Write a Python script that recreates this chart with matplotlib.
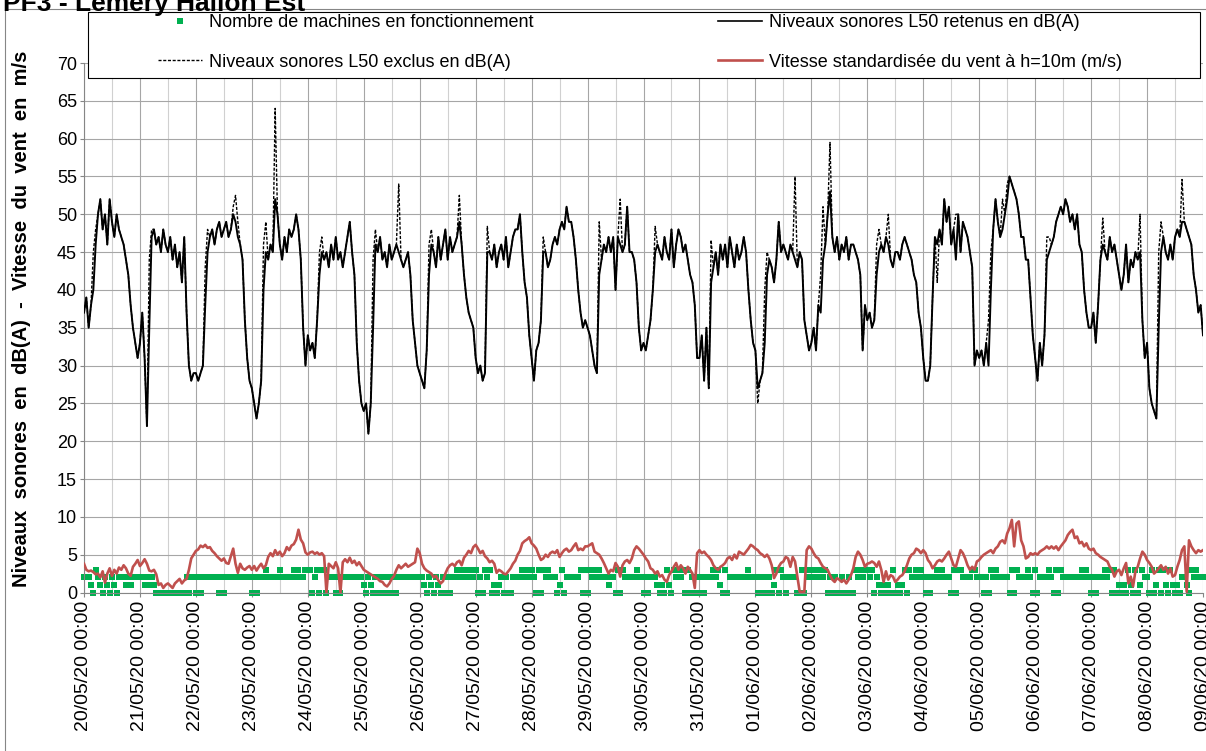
import matplotlib
matplotlib.use("Agg")
import matplotlib.pyplot as plt
import matplotlib.dates as mdates
from matplotlib.lines import Line2D
from matplotlib.patches import Rectangle
import numpy as np
import pandas as pd

plt.rcParams["font.family"] = ["Liberation Sans", "DejaVu Sans"]

# hourly L50 (retained), one row per day, from 20/05/20 00:00
l50_retenus = [
    37, 39, 35, 38, 40, 46, 50, 52, 48, 50, 46, 52, 49, 47, 50, 48, 47, 46, 44, 42, 38, 35, 33, 31,
    33, 37, 31, 22, 35, 47, 48, 46, 47, 45, 48, 46, 45, 47, 44, 46, 43, 45, 41, 47, 37, 30, 28, 29,
    29, 28, 29, 30, 38, 45, 47, 48, 46, 48, 49, 47, 48, 49, 47, 48, 50, 49, 47, 46, 44, 36, 31, 28,
    27, 25, 23, 25, 28, 40, 45, 44, 46, 45, 52, 50, 46, 44, 47, 45, 48, 47, 48, 50, 48, 44, 35, 30,
    34, 32, 33, 31, 36, 42, 45, 44, 45, 43, 46, 44, 47, 44, 45, 43, 45, 47, 49, 45, 42, 33, 28, 25,
    24, 25, 21, 25, 35, 46, 45, 47, 44, 45, 43, 46, 44, 45, 46, 45, 44, 43, 44, 45, 42, 36, 33, 30,
    29, 28, 27, 32, 42, 46, 45, 43, 47, 44, 46, 48, 44, 47, 45, 46, 47, 49, 46, 42, 39, 37, 36, 35,
    31, 29, 30, 28, 29, 45, 45, 44, 46, 43, 45, 46, 44, 47, 43, 45, 47, 48, 48, 50, 45, 41, 39, 34,
    31, 28, 32, 33, 36, 45, 45, 43, 44, 46, 47, 46, 48, 49, 48, 51, 49, 49, 47, 44, 40, 37, 35, 36,
    35, 34, 32, 30, 29, 42, 44, 46, 45, 47, 45, 47, 40, 47, 46, 45, 46, 51, 45, 45, 44, 41, 35, 32,
    33, 32, 34, 36, 40, 45, 46, 45, 44, 47, 45, 44, 48, 43, 46, 48, 47, 45, 46, 44, 42, 41, 38, 31,
    31, 34, 28, 35, 27, 41, 43, 45, 42, 46, 44, 46, 43, 47, 45, 43, 46, 44, 45, 47, 45, 40, 36, 33,
    32, 27, 28, 29, 33, 42, 44, 43, 41, 44, 49, 45, 46, 45, 44, 46, 45, 44, 43, 45, 44, 36, 34, 32,
    33, 35, 32, 38, 37, 44, 46, 50, 53, 47, 45, 47, 44, 46, 45, 47, 44, 46, 46, 45, 44, 42, 32, 38,
    36, 37, 35, 36, 42, 45, 46, 45, 47, 46, 44, 43, 45, 45, 44, 46, 47, 46, 45, 44, 42, 41, 37, 35,
    31, 28, 28, 30, 39, 47, 46, 48, 46, 52, 49, 51, 46, 48, 44, 50, 45, 49, 48, 47, 45, 43, 30, 32,
    31, 32, 30, 33, 30, 40, 48, 52, 49, 47, 48, 50, 52, 55, 54, 53, 52, 50, 47, 47, 44, 44, 39, 34,
    31, 28, 33, 30, 34, 44, 45, 46, 47, 49, 50, 51, 50, 52, 51, 49, 50, 48, 50, 46, 45, 40, 37, 35,
    35, 37, 33, 38, 44, 46, 45, 44, 47, 45, 46, 44, 42, 40, 42, 46, 41, 44, 43, 45, 44, 45, 36, 31,
    33, 27, 25, 24, 23, 35, 45, 47, 45, 44, 46, 44, 47, 48, 47, 49, 49, 48, 47, 46, 42, 40, 37, 38,
    34,
]

# excluded L50 values (day, hour, dB(A)) where they differ from the retained curve
l50_exclus_pics = [
    (0, 4, 45), (0, 5, 48), (1, 4, 44), (1, 5, 48), (2, 4, 43), (2, 5, 48),
    (2, 16, 51), (2, 17, 52.5), (2, 18, 49), (3, 5, 46), (3, 6, 49), (3, 10, 64),
    (4, 5, 45), (4, 6, 47), (5, 4, 44), (5, 5, 48), (5, 15, 54), (6, 4, 46),
    (6, 5, 48), (6, 17, 52.5), (7, 5, 48.4), (8, 5, 47), (9, 5, 49), (9, 14, 52),
    (10, 5, 48.4), (11, 5, 46.6), (12, 1, 25), (12, 4, 40), (12, 5, 45), (12, 17, 55),
    (13, 4, 42), (13, 5, 51), (13, 8, 59.5), (14, 4, 46), (14, 5, 48), (14, 9, 50),
    (15, 6, 41), (15, 14, 50), (16, 4, 36), (16, 5, 45), (16, 10, 52), (16, 12, 54),
    (17, 5, 47), (17, 6, 47), (18, 5, 49.5), (18, 21, 50), (19, 5, 45), (19, 6, 49),
    (19, 15, 54.6),
]

# hourly standardised wind speed at 10 m (m/s)
vent = [
    3.8, 3.0, 2.8, 2.9, 2.7, 2.4, 2.5, 2.0, 2.8, 1.3, 2.5, 3.2, 2.2, 3.0, 2.5, 3.3, 3.0, 3.6, 3.2, 2.5, 2.2, 3.4, 3.8, 4.3,
    3.5, 3.9, 4.4, 3.8, 2.9, 2.8, 3.0, 2.4, 1.0, 1.2, 0.6, 1.0, 1.2, 0.9, 0.6, 1.2, 1.5, 1.8, 1.2, 1.6, 1.8, 3.0, 4.5, 5.0,
    5.5, 5.7, 6.2, 6.0, 6.3, 5.9, 6.0, 5.5, 5.2, 4.8, 4.5, 4.2, 4.5, 3.9, 3.8, 4.8, 5.8, 3.8, 2.6, 3.8, 3.2, 3.0, 3.3, 3.5,
    3.0, 3.5, 2.9, 3.4, 3.8, 3.2, 3.6, 4.7, 5.2, 4.8, 5.6, 5.0, 5.4, 4.8, 5.2, 6.0, 5.6, 6.2, 6.4, 7.0, 8.3, 7.0, 6.5, 5.3,
    5.0, 5.3, 5.4, 5.1, 5.3, 5.0, 5.2, 4.8, 0.0, 3.8, 3.5, 3.2, 4.0, 3.2, 0.0, 4.0, 4.4, 4.0, 4.6, 3.9, 4.2, 3.6, 4.0, 3.5,
    3.0, 2.8, 2.6, 2.4, 2.2, 2.0, 1.8, 1.5, 1.4, 1.0, 0.8, 1.2, 1.8, 2.2, 3.0, 3.6, 3.2, 3.5, 3.8, 3.4, 3.6, 3.8, 4.0, 5.8,
    5.2, 3.8, 3.2, 2.9, 2.7, 2.5, 2.0, 2.2, 1.6, 1.2, 1.5, 2.5, 3.2, 3.6, 3.8, 3.5, 4.0, 4.2, 3.6, 4.6, 5.0, 5.5, 5.2, 6.0,
    6.3, 5.8, 5.2, 5.5, 4.8, 4.5, 4.0, 4.2, 3.8, 2.6, 3.0, 2.8, 2.5, 2.4, 2.8, 3.2, 3.8, 4.2, 5.0, 5.5, 6.5, 6.8, 7.0, 7.3,
    6.5, 6.2, 5.8, 5.0, 4.3, 4.5, 5.0, 4.7, 5.2, 5.4, 5.2, 5.6, 4.7, 5.2, 5.6, 5.8, 5.4, 5.6, 6.1, 6.5, 5.6, 5.8, 5.6, 6.1,
    6.1, 6.3, 6.5, 5.4, 5.2, 5.0, 4.5, 3.9, 3.2, 2.5, 3.0, 2.8, 3.9, 3.4, 2.1, 3.6, 4.1, 4.3, 3.9, 4.5, 5.6, 6.1, 5.8, 5.4,
    5.0, 4.5, 4.1, 3.2, 3.0, 2.5, 2.8, 2.1, 2.3, 1.7, 1.4, 2.3, 2.8, 3.4, 3.9, 3.0, 3.6, 3.2, 2.5, 3.4, 3.0, 2.5, 0.6, 5.2,
    5.6, 5.2, 5.4, 5.0, 4.7, 4.3, 3.6, 3.2, 3.0, 3.4, 3.6, 3.9, 4.5, 4.7, 4.3, 5.0, 4.5, 5.4, 5.2, 5.0, 5.4, 5.8, 6.3, 6.1,
    5.8, 5.6, 5.2, 5.0, 4.7, 5.0, 4.5, 3.6, 1.9, 2.5, 3.4, 3.9, 4.1, 4.7, 4.5, 3.4, 4.7, 4.1, 2.1, 0.1, 0.1, 0.1, 5.6, 6.1,
    5.8, 5.2, 4.7, 4.5, 3.9, 3.4, 3.2, 3.0, 2.3, 1.7, 1.4, 1.9, 1.7, 1.4, 1.7, 1.2, 1.7, 2.3, 3.2, 4.7, 5.4, 5.0, 4.3, 3.4,
    3.8, 3.9, 4.1, 3.9, 3.4, 4.1, 3.0, 1.4, 2.8, 1.7, 2.3, 2.1, 1.4, 1.7, 2.1, 2.3, 2.8, 3.6, 4.5, 5.0, 5.2, 5.8, 5.6, 5.2,
    5.6, 5.2, 4.3, 3.9, 3.2, 3.6, 4.1, 4.3, 4.1, 4.5, 5.0, 5.4, 4.5, 3.6, 3.4, 4.5, 5.6, 5.2, 4.5, 3.6, 3.0, 3.4, 3.0, 4.1,
    4.3, 4.7, 5.0, 5.2, 5.4, 5.6, 5.2, 5.8, 6.1, 6.7, 6.9, 6.5, 7.8, 8.5, 9.6, 6.1, 9.1, 9.4, 6.9, 6.1, 4.5, 4.7, 5.2, 5.0,
    5.2, 5.0, 5.4, 5.6, 5.8, 6.1, 5.8, 6.1, 5.8, 6.1, 5.6, 6.1, 6.5, 6.9, 7.6, 8.0, 8.3, 7.2, 7.4, 6.5, 6.7, 6.1, 6.5, 5.8,
    5.6, 5.8, 5.2, 5.0, 4.7, 4.5, 4.3, 4.1, 3.4, 3.0, 2.1, 2.8, 3.0, 2.3, 3.2, 3.9, 1.2, 2.1, 0.8, 2.8, 3.4, 4.5, 5.4, 5.0,
    4.3, 3.9, 3.4, 2.5, 2.8, 3.2, 3.6, 3.0, 3.4, 2.5, 3.2, 2.1, 2.3, 3.4, 4.3, 5.6, 6.1, 0.1, 6.9, 6.1, 5.6, 5.2, 5.6, 5.4,
    5.6,
]

# number of running turbines, one character per hour, one string per day
machines_jours = [
    "222103210210210222121222",  # 20/05
    "221212100000000000002022",
    "020222222202022222222222",
    "020222322222322222323223",
    "330230330222020222222222",
    "102102020202020222222222",  # 25/05
    "221021021020202232323232",
    "302032301012020022223232",
    "320303232220130222222303",
    "032323222122030322222322",
    "020222101031032323030202",  # 30/05
    "020222323103022222222322",
    "202020201303202222003032",
    "323232302020020020032323",
    "323021010103010130322323",
    "202022323222030332222332",  # 04/06
    "220203232222203032222320",
    "302222320303222222223232",
    "020222323030101031030132",
    "203013031031010221032322",  # 08/06
    "2",
]

debut = "2020-05-20 00:00"
titre = "PF3 - Lemery Hallon Est"
label_y = "Niveaux  sonores  en  dB(A)  -  Vitesse  du  vent  en  m/s"
lab_machines = "Nombre de machines en fonctionnement"
lab_exclus = "Niveaux sonores L50 exclus en dB(A)"
lab_retenus = "Niveaux sonores L50 retenus en dB(A)"
lab_vent = "Vitesse standardisée du vent à h=10m (m/s)"

VERT = "#00B050"
ROUGE = "#C0504D"

machines = [int(c) for c in "".join(machines_jours)]
assert len(machines) == len(l50_retenus) == len(vent) == 481

l50_exclus = list(l50_retenus)
for j, h, v in l50_exclus_pics:
    l50_exclus[24 * j + h] = v

t = pd.date_range(debut, periods=len(l50_retenus), freq="h")

W, H = 1206, 751
fig = plt.figure(figsize=(W / 100, H / 100), dpi=100)
ax = fig.add_axes([84 / W, 158.5 / H, (1203 - 84) / W, (592.5 - 63) / H])

ax.plot(t, machines, ls="none", marker="s", ms=4.5, mew=0, color=VERT,
        clip_on=False, zorder=2)
ax.plot(t, l50_exclus, color="black", lw=1.0, dashes=(2.2, 1.2), zorder=3)
ax.plot(t, l50_retenus, color="black", lw=1.4, zorder=4)
ax.plot(t, vent, color=ROUGE, lw=1.9, zorder=5)

ax.set_xlim(t[0], t[-1])
ax.set_ylim(0, 70)
ax.set_yticks(np.arange(0, 71, 5))
ax.xaxis.set_major_locator(mdates.DayLocator())
ax.xaxis.set_major_formatter(mdates.DateFormatter("%d/%m/%y %H:%M"))
ax.xaxis.set_minor_locator(mdates.HourLocator(byhour=[12]))

ax.grid(True, which="major", axis="both", color="#A6A6A6", lw=0.8)
ax.grid(True, which="minor", axis="x", color="#D0D0D0", lw=0.8)
ax.set_axisbelow(True)

for s in ["top", "right"]:
    ax.spines[s].set_visible(False)
for s in ["left", "bottom"]:
    ax.spines[s].set_color("#868686")
    ax.spines[s].set_linewidth(0.8)

ax.tick_params(axis="y", labelsize=13, length=3, pad=2, color="#868686")
ax.tick_params(axis="x", which="major", labelsize=14, length=3, pad=3,
               color="#868686", labelrotation=90)
ax.tick_params(axis="x", which="minor", length=0)

fig.text(22 / W, 1 - 319 / H, label_y, rotation=90, fontsize=14.5,
         fontweight="bold", ha="center", va="center")
fig.text(3 / W, 1 - 11.5 / H, titre, fontsize=19, fontweight="bold",
         ha="left", va="baseline")

# chart area border and legend box
fig.add_artist(Rectangle((5 / W, -0.1), 1.2, 1.1 - 9 / H, fill=False,
                         edgecolor="#868686", lw=0.8, transform=fig.transFigure))
fig.add_artist(Rectangle((88 / W, 1 - 78 / H), (1200 - 88) / W, 66 / H,
                         facecolor="white", edgecolor="black", lw=0.8,
                         transform=fig.transFigure, zorder=3))

h_mach = Line2D([], [], ls="none", marker="s", ms=4.5, mew=0, color=VERT)
h_excl = Line2D([], [], color="black", lw=1.0, dashes=(2.2, 1.2))
h_ret = Line2D([], [], color="black", lw=1.2)
h_vent = Line2D([], [], color=ROUGE, lw=1.9)

opts = dict(loc="center left", frameon=False, borderpad=0, borderaxespad=0,
            handlelength=2.45, handletextpad=0.35, labelspacing=1.25,
            fontsize=13, numpoints=1)
fig.legend([h_mach, h_excl], [lab_machines, lab_exclus],
           bbox_to_anchor=(158 / W, 1 - 42.5 / H), **opts)
fig.legend([h_ret, h_vent], [lab_retenus, lab_vent],
           bbox_to_anchor=(718 / W, 1 - 42.5 / H), **opts)

fig.savefig("out.png", dpi=100)
